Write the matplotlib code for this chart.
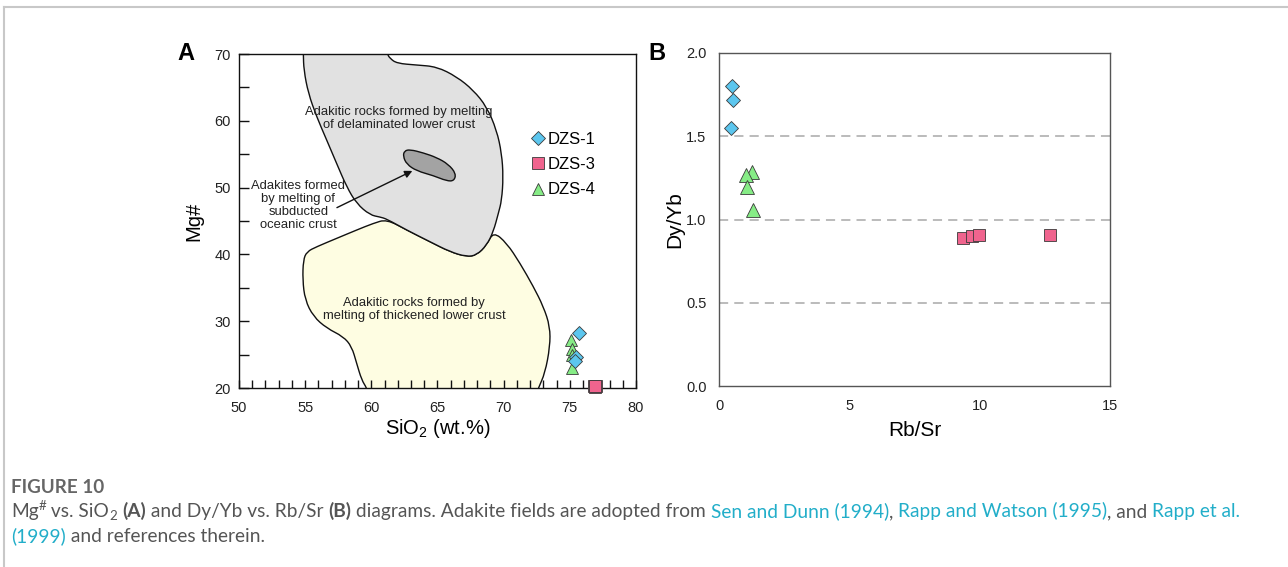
import numpy as np
import matplotlib
matplotlib.use("Agg")
import matplotlib.pyplot as plt
from matplotlib.patches import PathPatch
from matplotlib.path import Path
from matplotlib.lines import Line2D

plt.rcParams['font.family'] = ['Liberation Sans', 'DejaVu Sans']
plt.rcParams['mathtext.fontset'] = 'custom'
plt.rcParams['mathtext.rm'] = 'Liberation Sans'
plt.rcParams['mathtext.it'] = 'Liberation Sans:italic'
plt.rcParams['mathtext.bf'] = 'Liberation Sans:bold'

# samples, panel A: SiO2 vs Mg#
dzs1_sio2 = [75.7, 75.5, 75.4]
dzs1_mg = [28.2, 24.7, 24.0]
dzs3_sio2 = [76.85, 76.9, 76.95, 76.9]
dzs3_mg = [20.3, 20.2, 20.3, 20.25]
dzs4_sio2 = [75.1, 75.15, 75.2, 75.2]
dzs4_mg = [27.2, 25.9, 24.9, 22.95]

# samples, panel B: Rb/Sr vs Dy/Yb
dzs1_rbsr = [0.49, 0.55, 0.45]
dzs1_dyyb = [1.80, 1.72, 1.55]
dzs3_rbsr = [9.35, 9.69, 9.99, 12.7]
dzs3_dyyb = [0.887, 0.90, 0.907, 0.907]
dzs4_rbsr = [1.25, 1.04, 1.09, 1.29]
dzs4_dyyb = [1.288, 1.268, 1.197, 1.057]

# adakite fields (SiO2, Mg#), outline vertices
delam_sio2 = [54.86, 54.86, 54.9, 55.24, 55.87, 56.63, 57.38, 58.14, 58.89, 59.9, 60.65, 61.16,
              62.67, 64.43, 65.94, 67.2, 67.96, 68.72, 69.22, 69.6, 69.85, 69.97, 69.85,
              69.47, 68.72, 67.7, 66.45, 64.94, 63.43, 61.92, 61.41, 61.2, 61.2]
delam_mg = [72.0, 70.0, 67.6, 64.1, 60.6, 57.1, 53.6, 50.1, 47.6, 45.9, 45.6, 45.3,
            43.65, 41.9, 40.4, 39.65, 39.9, 41.4, 43.4, 46.15, 48.1, 51.6, 55.1,
            58.6, 62.1, 64.6, 66.6, 68.1, 68.35, 68.6, 69.35, 70.0, 72.0]
oceanic_sio2 = [62.5, 62.92, 63.93, 64.94, 65.82, 66.4, 66.25, 65.69, 64.68, 63.43, 62.67, 62.4]
oceanic_mg = [55.5, 55.7, 55.2, 54.5, 53.5, 52.1, 51.0, 51.0, 51.8, 52.5, 53.5, 54.7]
thick_sio2 = [61.16, 60.15, 58.89, 57.38, 55.87, 55.12, 54.86, 54.81, 54.99, 55.62, 56.63,
              57.88, 58.52, 58.89, 59.27, 59.65, 59.9, 72.4, 72.62, 73.12, 73.5, 73.5, 73.0,
              72.24, 71.23, 70.23, 69.22, 68.72, 67.96, 67.2, 65.94, 64.43, 62.67]
thick_mg = [45.25, 44.65, 43.65, 42.4, 41.15, 40.4, 39.15, 36.2, 33.2, 30.7, 28.95,
            27.7, 26.2, 23.7, 21.2, 20.0, 18.5, 18.5, 20.0, 22.2, 26.2, 29.2, 32.2,
            35.2, 38.7, 41.7, 43.4, 41.4, 39.9, 39.65, 40.4, 41.9, 43.65]

c_blue = '#5cc6ee'
c_pink = '#f0648e'
c_green = '#86ec86'
c_edge = '#3a3a3a'


def smooth_field(xs, ys, **kw):
    # closed quadratic-bezier path using the outline vertices as control points
    p = np.column_stack([xs, ys])
    n = len(p)
    mids = (p + np.roll(p, -1, axis=0)) / 2
    verts = [mids[-1]]
    codes = [Path.MOVETO]
    for i in range(n):
        verts += [p[i], mids[i]]
        codes += [Path.CURVE3, Path.CURVE3]
    verts.append(mids[-1])
    codes.append(Path.CLOSEPOLY)
    return PathPatch(Path(verts, codes), **kw)


fig = plt.figure(figsize=(12.88, 5.67), dpi=100)

# outer frame lines
fig.add_artist(Line2D([4/1288, 1], [1-7/567, 1-7/567], color='#c8c8c8', lw=1.5))
fig.add_artist(Line2D([4/1288, 4/1288], [0, 1-7/567], color='#c8c8c8', lw=1.5))

# ---------- panel A ----------
ax1 = fig.add_axes([239/1288, 1-388/567, 397/1288, 334/567])
ax1.add_patch(smooth_field(thick_sio2, thick_mg, facecolor='#fefde2',
                           edgecolor='#111111', lw=1.0, zorder=1))
ax1.add_patch(smooth_field(delam_sio2, delam_mg, facecolor='#e1e1e1',
                           edgecolor='#111111', lw=1.0, zorder=2))
ax1.add_patch(smooth_field(oceanic_sio2, oceanic_mg, facecolor='#a3a3a3',
                           edgecolor='#111111', lw=1.0, zorder=3))

fs_field = 9.4
ax1.text(62.07, 60.4, 'Adakitic rocks formed by melting\nof delaminated lower crust',
         ha='center', va='center', fontsize=fs_field, color='#222222', zorder=4,
         linespacing=1.1)
ax1.text(54.48, 47.3, 'Adakites formed\nby melting of\nsubducted\noceanic crust',
         ha='center', va='center', fontsize=fs_field, color='#222222', zorder=4,
         linespacing=1.1)
ax1.text(63.22, 31.7, 'Adakitic rocks formed by\nmelting of thickened lower crust',
         ha='center', va='center', fontsize=fs_field, color='#222222', zorder=4,
         linespacing=1.1)
ax1.annotate('', xy=(63.1, 52.5), xytext=(57.4, 47.0),
             arrowprops=dict(arrowstyle='-|>', color='#111111', lw=1.0,
                             mutation_scale=11, shrinkA=0, shrinkB=0), zorder=4)

ax1.plot(dzs4_sio2, dzs4_mg, '^', ms=9, mfc=c_green, mec=c_edge, mew=0.6,
         zorder=5, label='DZS-4', clip_on=False)
ax1.plot(dzs1_sio2, dzs1_mg, 'D', ms=7, mfc=c_blue, mec=c_edge, mew=0.6,
         zorder=6, label='DZS-1', clip_on=False)
ax1.plot(dzs3_sio2, dzs3_mg, 's', ms=9, mfc=c_pink, mec=c_edge, mew=0.6,
         zorder=7, label='DZS-3', clip_on=False)

ax1.set_xlim(50, 80)
ax1.set_ylim(20, 70)
ax1.set_xticks(np.arange(50, 81, 5))
ax1.set_xticks(np.arange(50, 81, 1), minor=True)
ax1.set_yticks(np.arange(20, 71, 10))
ax1.set_yticks(np.arange(20, 71, 5), minor=True)
ax1.tick_params(axis='x', which='both', direction='in', length=6, width=1,
                labelsize=10.5, pad=9, colors='#111111', labelcolor='#222222')
ax1.tick_params(axis='y', which='both', direction='in', length=7, width=1,
                labelsize=10.5, pad=6, colors='#111111', labelcolor='#222222')
for s in ax1.spines.values():
    s.set_color('#111111')
    s.set_linewidth(1.0)
ax1.set_xlabel('SiO$_2$ (wt.%)', fontsize=14.5, labelpad=2)
ax1.set_ylabel('Mg#', fontsize=14.5, labelpad=8)

h, l = ax1.get_legend_handles_labels()
order = [1, 2, 0]
leg = ax1.legend([h[i] for i in order], [l[i] for i in order], loc='upper left',
                 bbox_to_anchor=(0.725, 0.787), frameon=False, fontsize=12,
                 handlelength=0.6, handletextpad=0.25, labelspacing=0.62,
                 markerscale=0.95, borderaxespad=0)

ax1.text(-0.155, 1.0, 'A', transform=ax1.transAxes, fontsize=17, fontweight='bold',
         ha='left', va='center')

# ---------- panel B ----------
ax2 = fig.add_axes([719/1288, 1-386/567, 391/1288, 333/567])
for yv in [0.5, 1.0, 1.5]:
    ax2.axhline(yv, color='#a8a8a8', lw=1.1, ls=(0, (6, 4)), zorder=1)
ax2.plot(dzs1_rbsr, dzs1_dyyb, 'D', ms=7.5, mfc=c_blue, mec=c_edge, mew=0.6, zorder=5)
ax2.plot(dzs3_rbsr, dzs3_dyyb, 's', ms=9, mfc=c_pink, mec=c_edge, mew=0.6, zorder=5)
ax2.plot(dzs4_rbsr, dzs4_dyyb, '^', ms=9.5, mfc=c_green, mec=c_edge, mew=0.6, zorder=5)
ax2.set_xlim(0, 15)
ax2.set_ylim(0, 2.0)
ax2.set_xticks([0, 5, 10, 15])
ax2.set_yticks([0.0, 0.5, 1.0, 1.5, 2.0])
ax2.set_yticklabels(['0.0', '0.5', '1.0', '1.5', '2.0'])
ax2.tick_params(axis='both', length=0, labelsize=10.5, colors='#222222')
ax2.tick_params(axis='x', pad=9)
ax2.tick_params(axis='y', pad=9)
for s in ax2.spines.values():
    s.set_color('#555555')
    s.set_linewidth(1.0)
ax2.set_xlabel('Rb/Sr', fontsize=15, labelpad=6)
ax2.set_ylabel('Dy/Yb', fontsize=15, labelpad=1)
ax2.text(-0.18, 1.0, 'B', transform=ax2.transAxes, fontsize=17, fontweight='bold',
         ha='left', va='center')

# ---------- caption ----------
cap_font = ['Lato', 'DejaVu Sans']
grey = '#555555'
teal = '#22aec9'
cap_size = 13.8
fig.text(11/1288, 1-493/567, 'FIGURE 10', fontsize=13.6, color='#666666',
         fontweight='bold', family=cap_font, va='baseline')

line1 = [('Mg', grey, 'normal', 0), ('#', grey, 'normal', 1), (' vs. SiO', grey, 'normal', 0),
         ('2', grey, 'normal', -1), (' ', grey, 'normal', 0), ('(A)', grey, 'bold', 0),
         (' and Dy/Yb vs. Rb/Sr ', grey, 'normal', 0), ('(B)', grey, 'bold', 0),
         (' diagrams. Adakite fields are adopted from ', grey, 'normal', 0),
         ('Sen and Dunn (1994)', teal, 'normal', 0), (', ', grey, 'normal', 0),
         ('Rapp and Watson (1995)', teal, 'normal', 0), (', and ', grey, 'normal', 0),
         ('Rapp et al.', teal, 'normal', 0)]
line2 = [('(1999)', teal, 'normal', 0), (' and references therein.', grey, 'normal', 0)]

renderer = fig.canvas.get_renderer()


def draw_line(parts, x0, y0, size):
    x = x0
    for txt, col, wt, shift in parts:
        fs = size * 0.7 if shift else size
        dy = 7 if shift > 0 else (-3 if shift < 0 else 0)
        t = fig.text(x / 1288, 1 - (y0 - dy) / 567, txt, fontsize=fs, color=col,
                     fontweight=wt, family=cap_font, va='baseline')
        bb = t.get_window_extent(renderer=renderer)
        x += bb.width


draw_line(line1, 11, 517, cap_size)
draw_line(line2, 11, 542, cap_size)

fig.savefig('out.png', dpi=100)
